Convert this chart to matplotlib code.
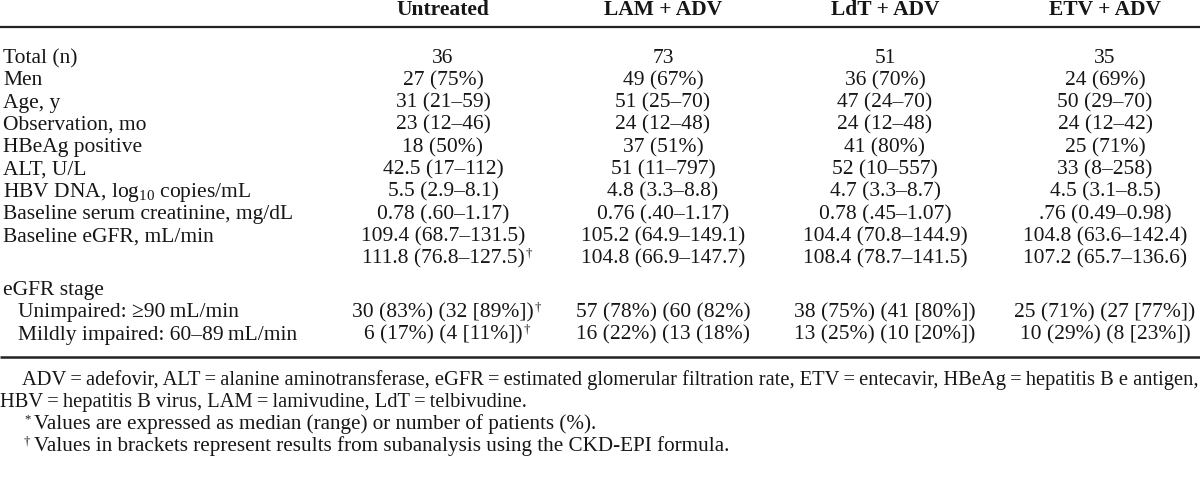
import matplotlib
matplotlib.use("Agg")
import matplotlib.pyplot as plt

# ---------------- data ----------------
groups = ["Untreated", "LAM + ADV", "LdT + ADV", "ETV + ADV"]

row_labels = [
    "Total (n)",
    "Men",
    "Age, y",
    "Observation, mo",
    "HBeAg positive",
    "ALT, U/L",
    r"HBV DNA, log$_{10}$ copies/mL",
    "Baseline serum creatinine, mg/dL",
    "Baseline eGFR, mL/min",
    "",
    "eGFR stage",
    "Unimpaired: \u226590\u2009mL/min",
    "Mildly impaired: 60\u201389\u2009mL/min",
]
indented = [False] * 11 + [True, True]

untreated = ["36", "27 (75%)", "31 (21\u201359)", "23 (12\u201346)", "18 (50%)",
             "42.5 (17\u2013112)", "5.5 (2.9\u20138.1)", "0.78 (.60\u20131.17)",
             "109.4 (68.7\u2013131.5)", "111.8 (76.8\u2013127.5)\u2020", "",
             "30 (83%) (32 [89%])\u2020", "6 (17%) (4 [11%])\u2020"]
lam_adv = ["73", "49 (67%)", "51 (25\u201370)", "24 (12\u201348)", "37 (51%)",
           "51 (11\u2013797)", "4.8 (3.3\u20138.8)", "0.76 (.40\u20131.17)",
           "105.2 (64.9\u2013149.1)", "104.8 (66.9\u2013147.7)", "",
           "57 (78%) (60 (82%)", "16 (22%) (13 (18%)"]
ldt_adv = ["51", "36 (70%)", "47 (24\u201370)", "24 (12\u201348)", "41 (80%)",
           "52 (10\u2013557)", "4.7 (3.3\u20138.7)", "0.78 (.45\u20131.07)",
           "104.4 (70.8\u2013144.9)", "108.4 (78.7\u2013141.5)", "",
           "38 (75%) (41 [80%])", "13 (25%) (10 [20%])"]
etv_adv = ["35", "24 (69%)", "50 (29\u201370)", "24 (12\u201342)", "25 (71%)",
           "33 (8\u2013258)", "4.5 (3.1\u20138.5)", ".76 (0.49\u20130.98)",
           "104.8 (63.6\u2013142.4)", "107.2 (65.7\u2013136.6)", "",
           "25 (71%) (27 [77%])", "10 (29%) (8 [23%])"]
columns = [untreated, lam_adv, ldt_adv, etv_adv]

footnotes = [
    "ADV\u2009=\u2009adefovir, ALT\u2009=\u2009alanine aminotransferase, eGFR\u2009=\u2009estimated glomerular filtration rate, ETV\u2009=\u2009entecavir, HBeAg\u2009=\u2009hepatitis B e antigen,",
    "HBV\u2009=\u2009hepatitis B virus, LAM\u2009=\u2009lamivudine, LdT\u2009=\u2009telbivudine.",
    "Values are expressed as median (range) or number of patients (%).",
    "Values in brackets represent results from subanalysis using the CKD-EPI formula.",
]
footnote_marks = ["", "", "*", "\u2020"]

# ---------------- style ----------------
plt.rcParams['font.family'] = ['Liberation Serif', 'DejaVu Serif']
plt.rcParams['mathtext.fontset'] = 'custom'
plt.rcParams['mathtext.rm'] = 'Liberation Serif'
plt.rcParams['mathtext.it'] = 'Liberation Serif:italic'
plt.rcParams['mathtext.bf'] = 'Liberation Serif:bold'

W, H = 1200, 480
fig = plt.figure(figsize=(12, 4.8), dpi=100)
ax = fig.add_axes([0, 0, 1, 1])
ax.set_xlim(0, W)
ax.set_ylim(H, 0)
ax.axis('off')
renderer = fig.canvas.get_renderer()

fs = 15.5
col_x = [443, 663, 885, 1105]
label_x = 3
indent_x = 18
ink = '#161616'


def right_edge(t):
    bb = t.get_window_extent(renderer=renderer)
    inv = ax.transData.inverted()
    return inv.transform((bb.x1, bb.y0))[0]


# header
header_base = 15
for x, g in zip(col_x, groups):
    ax.text(x, header_base, g, ha='center', va='baseline', fontsize=fs,
            fontweight='bold', color=ink)

ax.plot([0, W], [26.5, 26.5], color='#222222', lw=1.6, solid_capstyle='butt')

# body
base0 = 63
dy = 22.3
extra = 9
for i, lab in enumerate(row_labels):
    y = base0 + i * dy + (extra if i >= 10 else 0)
    if lab:
        ax.text(indent_x if indented[i] else label_x, y, lab, ha='left',
                va='baseline', fontsize=fs, color=ink)
    for x, col in zip(col_x, columns):
        s = col[i]
        if not s:
            continue
        mark = ""
        if s.endswith("\u2020"):
            s, mark = s[:-1], "\u2020"
        t = ax.text(x, y, s, ha='center', va='baseline', fontsize=fs, color=ink)
        if mark:
            xr = right_edge(t)
            ax.text(xr + 1, y - 7, mark, ha='left', va='baseline',
                    fontsize=fs * 0.6, color=ink)

ax.plot([0, W], [357, 357], color='#222222', lw=1.8, solid_capstyle='butt')

# footnotes
foot_x = [22, 0, 34, 34]
foot_fs = [14.8, 14.8, 15.2, 15.2]
foot_base = [385, 407, 429, 451]
for x, y, t, m, f in zip(foot_x, foot_base, footnotes, footnote_marks, foot_fs):
    ax.text(x, y, t, ha='left', va='baseline', fontsize=f, color=ink)
    if m:
        ax.text(x - 10, y - 7, m, ha='left', va='baseline', fontsize=f * 0.6,
                color=ink)

fig.savefig("out.png", dpi=100, facecolor='white')
